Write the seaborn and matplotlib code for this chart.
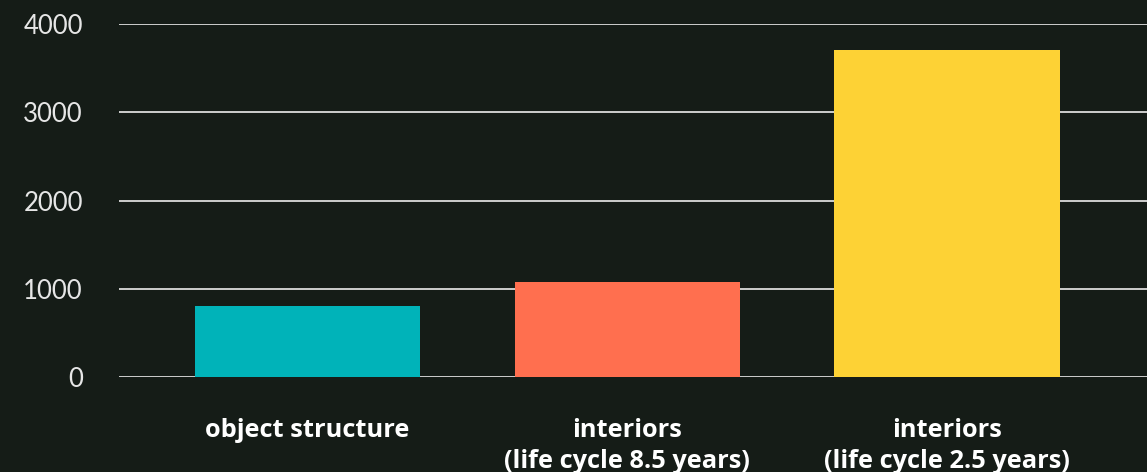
import matplotlib
matplotlib.use("Agg")
import matplotlib.pyplot as plt
import seaborn as sns
import pandas as pd

categories = ["object structure",
              "interiors\n(life cycle 8.5 years)",
              "interiors\n(life cycle 2.5 years)"]
values = [805, 1080, 3705]
colors = ["#00b3b9", "#ff6f4f", "#fdd235"]
y_ticks = [0, 1000, 2000, 3000, 4000]

bg = "#151c17"

sns.set_theme(style="dark")
plt.rcParams["font.family"] = ["Lato", "DejaVu Sans"]

fig = plt.figure(figsize=(11.47, 4.72), dpi=100, facecolor=bg)
ax = fig.add_axes([0.1037, 0.2006, 0.8963, 0.7486])
ax.set_facecolor(bg)

df = pd.DataFrame({"category": categories, "value": values})
sns.barplot(data=df, x="category", y="value", hue="category",
            palette=colors, width=0.705, saturation=1, legend=False,
            linewidth=0, edgecolor="none", ax=ax)

ax.set_ylim(0, 4000)
ax.set_xlim(-0.59, 2.625)
ax.set_yticks(y_ticks)
ax.set_yticklabels([str(t) for t in y_ticks])

ax.set_axisbelow(True)
ax.grid(axis="y", color="white", linewidth=1.1)
ax.grid(axis="x", visible=False)
for s in ax.spines.values():
    s.set_visible(False)

ax.tick_params(axis="y", length=0, pad=26, labelsize=18.5, labelcolor="#e6e6e6")
ax.tick_params(axis="x", length=0, pad=29, labelcolor="white")
for lbl in ax.get_xticklabels():
    lbl.set_fontfamily(["Open Sans", "DejaVu Sans"])
    lbl.set_fontweight("bold")
    lbl.set_fontsize(18.3)
    lbl.set_linespacing(1.32)
    lbl.set_verticalalignment("top")

ax.set_xlabel("")
ax.set_ylabel("")

fig.savefig("out.png", dpi=100, facecolor=bg)
